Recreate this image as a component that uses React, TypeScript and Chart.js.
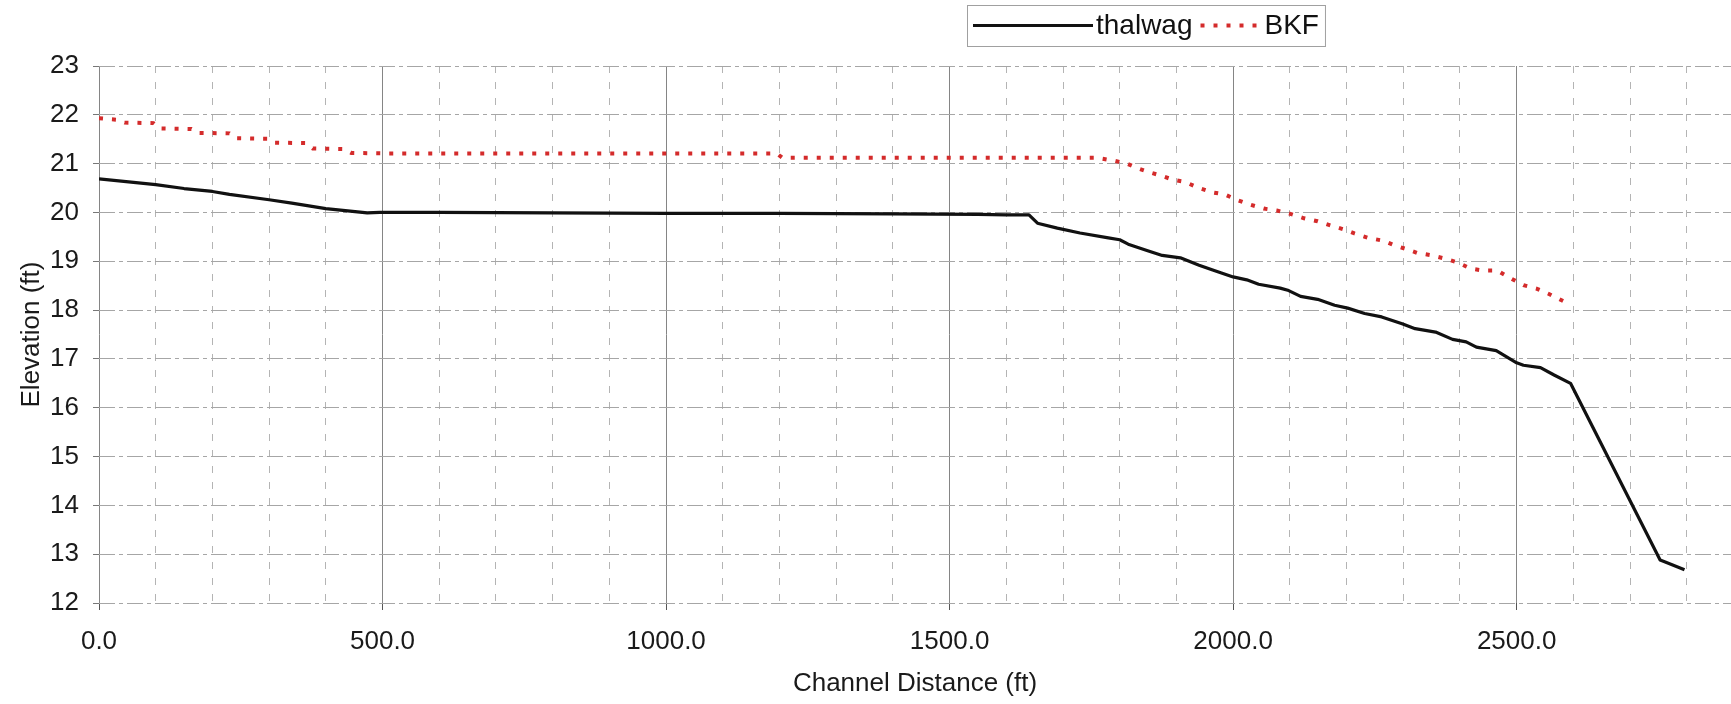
import React, { useEffect, useRef } from 'react';
import { Chart, registerables } from 'chart.js';

Chart.register(...registerables);

// ---- data ----
const seriesNames = ['thalwag', 'BKF'];

const thalwegDistance = [
  0, 100, 150, 200, 230, 300, 340, 400, 473, 495, 600, 800, 1000, 1200, 1400, 1550, 1600, 1640,
  1655, 1690, 1730, 1780, 1800, 1815, 1848, 1875, 1907, 1940, 1964, 2000, 2024, 2045, 2083, 2098,
  2119, 2149, 2179, 2202, 2232, 2262, 2298, 2321, 2357, 2387, 2411, 2429, 2464, 2500, 2512, 2542,
  2566, 2595, 2753, 2762, 2796,
];
const thalwegElevation = [
  20.69, 20.57, 20.49, 20.43, 20.37, 20.26, 20.19, 20.08, 19.99, 20.0, 20.0, 19.99, 19.98, 19.98,
  19.97, 19.96, 19.95, 19.95, 19.78, 19.68, 19.58, 19.48, 19.44, 19.35, 19.22, 19.12, 19.07, 18.92,
  18.82, 18.68, 18.62, 18.53, 18.45, 18.4, 18.28, 18.22, 18.1, 18.04, 17.93, 17.86, 17.72, 17.62,
  17.55, 17.4, 17.35, 17.24, 17.17, 16.92, 16.87, 16.82, 16.67, 16.5, 12.88, 12.84, 12.68,
];

const bkfDistance = [
  0, 30, 45, 96, 108, 163, 176, 230, 243, 298, 310, 365, 377, 432, 445, 500, 800, 1195, 1205, 1500,
  1760, 1790, 1813, 1833, 1853, 1874, 1894, 1914, 1940, 1964, 1985, 2006, 2030, 2054, 2077, 2101,
  2125, 2149, 2173, 2196, 2214, 2238, 2265, 2286, 2303, 2325, 2351, 2375, 2397, 2419, 2441, 2466,
  2488, 2512, 2535, 2557, 2588,
];
const bkfElevation = [
  21.93, 21.9, 21.84, 21.83, 21.72, 21.71, 21.63, 21.62, 21.52, 21.51, 21.43, 21.42, 21.31, 21.3,
  21.22, 21.21, 21.21, 21.21, 21.12, 21.12, 21.12, 21.06, 21.0, 20.9, 20.82, 20.75, 20.67, 20.63,
  20.5, 20.41, 20.37, 20.26, 20.16, 20.08, 20.04, 19.97, 19.88, 19.82, 19.73, 19.65, 19.57, 19.48,
  19.42, 19.32, 19.26, 19.17, 19.12, 19.05, 18.97, 18.85, 18.81, 18.81, 18.66, 18.51, 18.44, 18.33,
  18.15,
];

const xTickLabels = ['0.0', '500.0', '1000.0', '1500.0', '2000.0', '2500.0'];
const yTickLabels = ['12', '13', '14', '15', '16', '17', '18', '19', '20', '21', '22', '23'];

const FONT = '"Liberation Sans", Arial, Helvetica, sans-serif';

export default function App() {
  const ref = useRef<HTMLCanvasElement | null>(null);

  useEffect(() => {
    if (!ref.current) return;

    const boxedLegend = {
      id: 'boxedLegend',
      afterDraw(chart: any) {
        const ctx = chart.ctx as CanvasRenderingContext2D;
        const ds = chart.data.datasets;
        const boxL = 967;
        const boxT = 5;
        const boxH = 41;
        const midY = boxT + boxH / 2;
        const sampleW = [120, 61];
        ctx.save();
        ctx.font = `28px ${FONT}`;
        ctx.textBaseline = 'middle';
        ctx.textAlign = 'left';
        let x = boxL + 6;
        ds.forEach((d: any, i: number) => {
          ctx.save();
          ctx.strokeStyle = d.borderColor;
          ctx.lineWidth = d.borderWidth;
          ctx.setLineDash(d.borderDash || []);
          ctx.lineCap = 'butt';
          ctx.beginPath();
          ctx.moveTo(x, midY);
          ctx.lineTo(x + sampleW[i], midY);
          ctx.stroke();
          ctx.restore();
          x += sampleW[i] + 3;
          ctx.fillStyle = '#111';
          ctx.fillText(d.label, x, midY + 1);
          x += ctx.measureText(d.label).width + (i === 0 ? 8 : 6);
        });
        ctx.strokeStyle = '#a0a0a0';
        ctx.lineWidth = 1;
        ctx.setLineDash([]);
        ctx.strokeRect(boxL + 0.5, boxT + 0.5, x - boxL, boxH);
        ctx.restore();
      },
    };

    const chart = new Chart(ref.current, {
      type: 'line',
      data: {
        datasets: [
          {
            label: seriesNames[0],
            data: thalwegDistance.map((d, i) => ({ x: d, y: thalwegElevation[i] })),
            borderColor: '#111111',
            borderWidth: 3.2,
            pointRadius: 0,
            tension: 0,
            borderJoinStyle: 'round',
          },
          {
            label: seriesNames[1],
            data: bkfDistance.map((d, i) => ({ x: d, y: bkfElevation[i] })),
            borderColor: '#d42b2b',
            borderWidth: 4,
            borderDash: [4, 9],
            pointRadius: 0,
            tension: 0,
          },
        ],
      },
      options: {
        animation: false,
        responsive: true,
        maintainAspectRatio: false,
        layout: { padding: { top: 66, left: 0, right: 0, bottom: 0 } },
        plugins: { legend: { display: false }, tooltip: { enabled: false } },
        scales: {
          x: {
            type: 'linear',
            min: 0,
            max: 2878,
            afterFit(s: any) {
              s.height = 101;
            },
            ticks: {
              stepSize: 100,
              includeBounds: false,
              autoSkip: false,
              maxRotation: 0,
              minRotation: 0,
              padding: 16,
              color: '#1a1a1a',
              font: { family: FONT, size: 26 },
              callback: (v: any) => (Number(v) % 500 === 0 ? xTickLabels[Number(v) / 500] : ''),
            },
            grid: {
              drawTicks: true,
              tickLength: 7,
              color: (c: any) => (c.tick && c.tick.value % 500 === 0 ? '#858585' : '#b4b4b4'),
              tickColor: (c: any) => (c.tick && c.tick.value % 500 === 0 ? '#555' : 'rgba(0,0,0,0)'),
              lineWidth: 1,
            },
            border: {
              display: false,
              dash: (c: any) => (c.tick && c.tick.value % 500 === 0 ? [] : [7, 9]),
            },
            title: {
              display: true,
              text: 'Channel Distance (ft)',
              color: '#1a1a1a',
              font: { family: FONT, size: 26 },
              padding: { top: 0, bottom: 5 },
            },
          },
          y: {
            type: 'linear',
            min: 12,
            max: 23,
            afterFit(s: any) {
              s.width = 99;
            },
            ticks: {
              stepSize: 1,
              padding: 14,
              color: '#1a1a1a',
              font: { family: FONT, size: 26 },
              callback: (v: any) => yTickLabels[Math.round(Number(v)) - 12],
            },
            grid: {
              drawTicks: true,
              tickLength: 6,
              color: '#a6a6a6',
              tickColor: '#777',
              lineWidth: 1,
            },
            border: { display: false, dash: [16, 4, 4, 4] },
            title: {
              display: true,
              text: 'Elevation (ft)',
              color: '#1a1a1a',
              font: { family: FONT, size: 26 },
              padding: { top: 16, bottom: 0 },
            },
          },
        },
      },
      plugins: [boxedLegend],
    } as any);

    return () => chart.destroy();
  }, []);

  return (
    <div
      style={{
        position: 'fixed',
        left: 0,
        top: 0,
        width: 1731,
        height: 704,
        background: '#ffffff',
      }}
    >
      <canvas ref={ref} />
    </div>
  );
}
